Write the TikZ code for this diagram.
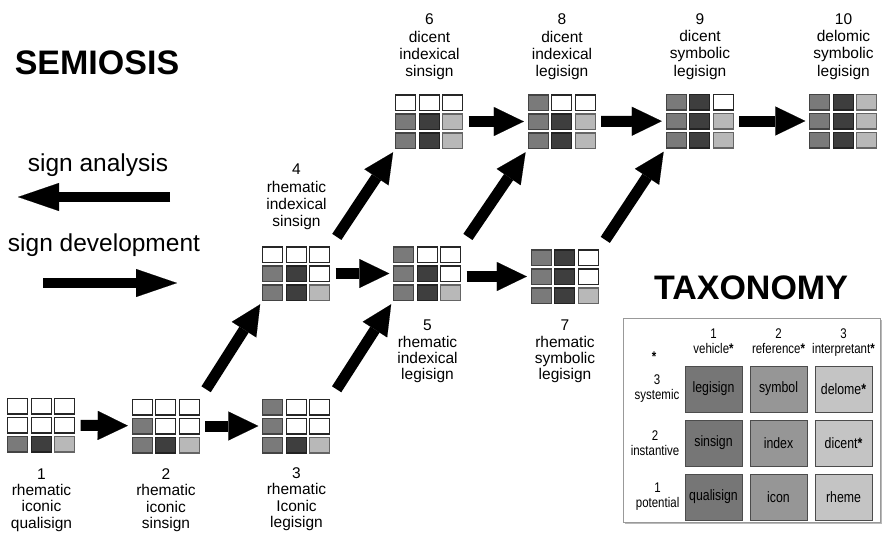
\documentclass[tikz,border=0pt]{standalone}
\usepackage{fontspec}
\setmainfont{Liberation Sans}
\newfontfamily\narrowfont[FakeStretch=0.82]{Liberation Sans}
\usetikzlibrary{arrows.meta, positioning, calc, shadows}
\definecolor{vehgray}{RGB}{122,122,122}
\definecolor{refgray}{RGB}{62,62,62}
\definecolor{intgray}{RGB}{184,184,184}
\definecolor{taxone}{RGB}{118,118,118}
\definecolor{taxtwo}{RGB}{150,150,150}
\definecolor{taxthree}{RGB}{196,196,196}

% 3x3 sign grid: name, position, vehicle, reference, interpretant level
\newcommand{\signgrid}[5]{%
  \node[gridbox] (#1) at #2 {};
  \foreach \cl/\lv/\fc in {1/#3/vehgray, 2/#4/refgray, 3/#5/intgray}
    \foreach \rw in {1,2,3}{
      \ifnum\rw>\lv\relax \def\cellfill{white}\def\celldraw{black!85}%
      \else \edef\cellfill{\fc}\edef\celldraw{\fc!55!black}\fi
      \filldraw[gridcell, fill=\cellfill, draw=\celldraw]
        ($(#1.south west)+(\cl*23.5-23,-\rw*19+18.5)$) rectangle +(20,-15.5);
    }}

\begin{document}
\begin{tikzpicture}[x=1pt, y=-1pt,
  gridbox/.style={rectangle, inner sep=0pt, minimum width=68pt, minimum height=54.5pt},
  gridcell/.style={line width=1.1pt},
  signlabel/.style={align=center, inner sep=0pt, font=\fontsize{15.5}{16.3}\selectfont},
  toplabel/.style={signlabel, font=\fontsize{15.5}{17.3}\selectfont},
  bigarrow/.style={line width=11pt, -{Triangle[length=30pt, width=29pt, line width=0.1pt]},
    shorten <=5pt, shorten >=4pt},
  diagarrow/.style={bigarrow, shorten <=11pt, shorten >=4pt},
  legendarrow/.style={line width=10pt, -{Triangle[length=41pt, width=28pt, line width=0.1pt]}},
  headline/.style={font=\fontsize{34}{34}\selectfont\bfseries, inner sep=0pt},
  legendtext/.style={font=\fontsize{24.5}{26}\selectfont, inner sep=0pt},
  taxframe/.style={rectangle, draw=black!40, line width=1pt, fill=white,
    minimum width=257pt, minimum height=204pt,
    drop shadow={shadow xshift=1.5pt, shadow yshift=-1.5pt, fill=black!55}},
  taxcell/.style={rectangle, draw=black!70, line width=1pt, minimum width=57pt,
    minimum height=46pt, inner sep=0pt, font=\narrowfont\fontsize{15}{15}\selectfont},
  taxlabel/.style={align=center, inner sep=0pt, font=\narrowfont\fontsize{14}{15}\selectfont}
]
\useasboundingbox (0,0) rectangle (883,533);

% Legend
\node[headline] (semiosis) at (97,63) {SEMIOSIS};
\node[legendtext] (analysis) at (98,165) {sign analysis};
\node[legendtext] (development) at (104,245) {sign development};
\coordinate (ana tail) at (170,197);
\coordinate (ana tip) at (18,197);
\coordinate (dev tail) at (43,283);
\coordinate (dev tip) at (177,283);
\draw[legendarrow] (ana tail) -- (ana tip);
\draw[legendarrow] (dev tail) -- (dev tip);

% Sign classes
\signgrid{g1}{(41.5,425)}{1}{1}{1}
\signgrid{g2}{(166,426)}{2}{1}{1}
\signgrid{g3}{(296.5,426)}{3}{1}{1}
\signgrid{g4}{(296.5,273.5)}{2}{2}{1}
\signgrid{g5}{(427.5,273.5)}{3}{2}{1}
\signgrid{g6}{(429.5,121.5)}{2}{2}{2}
\signgrid{g7}{(565,276.5)}{3}{3}{1}
\signgrid{g8}{(562,121.5)}{3}{2}{2}
\signgrid{g9}{(700,121)}{3}{3}{2}
\signgrid{g10}{(843.5,121)}{3}{3}{3}

% Labels
\node[signlabel, below=16pt of g1] (l1) {1\\rhematic\\iconic\\qualisign};
\node[signlabel, below=15pt of g2] (l2) {2\\rhematic\\iconic\\sinsign};
\node[signlabel, below=14pt of g3] (l3) {3\\rhematic\\Iconic\\legisign};
\node[toplabel, above=16pt of g4] (l4) {4\\rhematic\\indexical\\sinsign};
\node[signlabel, below=19pt of g5] (l5) {5\\rhematic\\indexical\\legisign};
\node[toplabel, above=14pt of g6] (l6) {6\\dicent\\indexical\\sinsign};
\node[signlabel, below=16pt of g7] (l7) {7\\rhematic\\symbolic\\legisign};
\node[toplabel, above=14pt of g8] (l8) {8\\dicent\\indexical\\legisign};
\node[toplabel, above=14pt of g9] (l9) {9\\dicent\\symbolic\\legisign};
\node[toplabel, above=14pt of g10] (l10) {10\\delomic\\symbolic\\legisign};

% Arrows
\draw[bigarrow] (g1) -- (g2);
\draw[bigarrow] (g2) -- (g3);
\draw[bigarrow] (g4) -- (g5);
\draw[bigarrow] (g5.east |- g7.west) -- (g7.west);
\draw[bigarrow] (g6) -- (g8);
\draw[bigarrow] (g8) -- (g9);
\draw[bigarrow] (g9) -- (g10);
\draw[diagarrow] (g2.north east) -- (g4.south west);
\draw[diagarrow] (g3.north east) -- (g5.south west);
\draw[diagarrow] (g4.north east) -- (g6.south west);
\draw[diagarrow] (g5.north east) -- (g8.south west);
\draw[diagarrow] (g7.north east) -- (g9.south west);

% Taxonomy
\node[headline] (taxonomy) at (751,288) {TAXONOMY};
\node[taxframe] (frame) at (751.5,420) {};
\node[taxcell, fill=taxone] (legi) at (713.5,389) {legisign};
\node[taxcell, fill=taxtwo, right=7pt of legi] (symb) {symbol};
\node[taxcell, fill=taxthree, right=7pt of symb] (delo) {delome{\bfseries*}};
\node[taxcell, fill=taxone, below=7pt of legi] (sins) {sinsign};
\node[taxcell, fill=taxtwo, right=7pt of sins] (inde) {index};
\node[taxcell, fill=taxthree, right=7pt of inde] (dice) {dicent{\bfseries*}};
\node[taxcell, fill=taxone, below=7pt of sins] (qual) {qualisign};
\node[taxcell, fill=taxtwo, right=7pt of qual] (icon) {icon};
\node[taxcell, fill=taxthree, right=7pt of icon] (rhem) {rheme};
\node[taxlabel, above=7pt of legi] (vehi) {1\\vehicle{\bfseries*}\strut};
\node[taxlabel, above=7pt of symb] (refe) {2\\reference{\bfseries*}\strut};
\node[taxlabel, above=7pt of delo] (inte) {3\\interpretant{\bfseries*}\strut};
\node[taxlabel, left=5pt of legi] (syst) {3\\systemic};
\node[taxlabel, left=5pt of sins] (inst) {2\\instantive};
\node[taxlabel, left=5pt of qual] (pote) {1\\potential};
\node[taxlabel] (star) at (654,357) {\bfseries*};
\end{tikzpicture}
\end{document}
